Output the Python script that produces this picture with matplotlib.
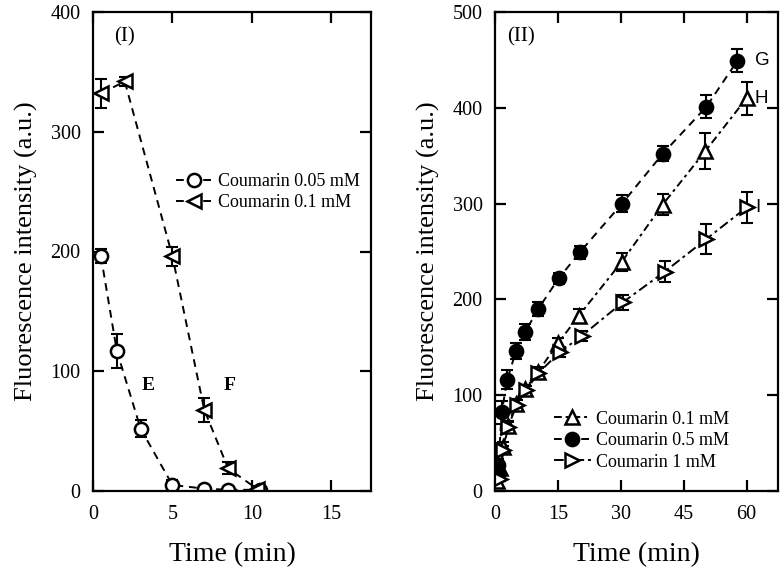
import matplotlib
matplotlib.use("Agg")
import matplotlib.pyplot as plt

plt.rcParams['font.family'] = ['Liberation Serif', 'DejaVu Serif']
plt.rcParams['mathtext.fontset'] = 'stix'

# panel I: coumarin consumption
t_e = [0.5, 1.5, 3.0, 5.0, 7.0, 8.5, 10.5]
y_e = [196, 117, 52, 5, 2, 1, 1]
err_e = [6, 14, 7, 4, 2, 2, 2]

t_f = [0.5, 2.0, 5.0, 7.0, 8.5, 10.3]
y_f = [332, 342, 196, 68, 19, 2]
err_f = [12, 4, 8, 10, 5, 2]

# panel II: product formation
t_g = [0.5, 0.8, 1.6, 2.9, 5.0, 7.2, 10.3, 15.2, 20.2, 30.3, 40.0, 50.4, 57.8]
y_g = [20, 27, 82, 116, 146, 166, 190, 222, 249, 300, 352, 401, 449]
err_g = [5, 6, 12, 10, 8, 8, 7, 6, 7, 9, 8, 12, 12]

t_h = [0.5, 1.2, 2.0, 3.1, 5.0, 7.2, 10.2, 15.0, 20.0, 30.2, 40.0, 50.2, 60.0]
y_h = [10, 24, 46, 68, 91, 106, 124, 154, 183, 239, 299, 355, 410]
err_h = [3, 4, 5, 5, 5, 5, 5, 6, 7, 9, 11, 19, 17]

t_i = [1.2, 2.0, 3.1, 5.2, 7.4, 10.3, 15.5, 20.7, 30.5, 40.5, 50.4, 60.0]
y_i = [13, 43, 67, 90, 105, 123, 145, 162, 197, 229, 263, 296]
err_i = [3, 4, 5, 5, 5, 5, 5, 5, 8, 11, 16, 16]

W, H = 783, 570
fig = plt.figure(figsize=(W / 100, H / 100), dpi=100)
ax1 = fig.add_axes([93 / W, 79 / H, 278 / W, 479 / H])
ax2 = fig.add_axes([495 / W, 79 / H, 283 / W, 479 / H])

mk = dict(markersize=9.5, markeredgewidth=1.8, color='black', lw=1.4)
eb = dict(fmt='none', ecolor='black', elinewidth=1.5, capsize=4, capthick=1.5)


def style_axes(ax):
    for s in ax.spines.values():
        s.set_linewidth(1.6)
    ax.tick_params(direction='in', top=True, right=True, width=1.6, length=8,
                   labelsize=14.5, pad=9)
    ax.tick_params(axis='x', pad=10)
    ax.set_xlabel('Time (min)', fontsize=20, labelpad=13)
    ax.set_ylabel('Fluorescence intensity (a.u.)', fontsize=19, labelpad=9)


# ---- panel I ----
ax1.errorbar(t_e, y_e, yerr=err_e, **eb)
ax1.errorbar(t_f, y_f, yerr=err_f, **eb)
ax1.plot(t_e, y_e, marker='o', mfc='white', dashes=(4, 3),
         label='Coumarin 0.05 mM', **mk)
ax1.plot(t_f, y_f, marker='<', mfc='white', dashes=(4, 3),
         label='Coumarin 0.1 mM', **mk)
ax1.set_xlim(0, 17.5)
ax1.set_ylim(0, 400)
ax1.set_xticks([0, 5, 10, 15])
ax1.set_yticks([0, 100, 200, 300, 400])
style_axes(ax1)
ax1.text(0.115, 0.948, '(I)', transform=ax1.transAxes, fontsize=15, ha='center', va='center')
ax1.text(3.45, 88, 'E', fontsize=14, fontweight='bold', ha='center', va='center')
ax1.text(8.6, 88, 'F', fontsize=14, fontweight='bold', ha='center', va='center')
ax1.legend(loc='center left', bbox_to_anchor=(0.30, 0.624), frameon=False,
           fontsize=13, handlelength=1.9, handletextpad=0.4, labelspacing=0.2,
           borderpad=0, borderaxespad=0)

# ---- panel II ----
ax2.errorbar(t_g, y_g, yerr=err_g, **eb)
ax2.errorbar(t_h, y_h, yerr=err_h, **eb)
ax2.errorbar(t_i, y_i, yerr=err_i, **eb)
ax2.plot(t_h, y_h, marker='^', mfc='white', dashes=(4, 2, 1.5, 2),
         label='Coumarin 0.1 mM', **mk)
ax2.plot(t_g, y_g, marker='o', mfc='black', dashes=(4, 3),
         label='Coumarin 0.5 mM', **mk)
ax2.plot(t_i, y_i, marker='>', mfc='white', dashes=(5, 2, 1.5, 2),
         label='Coumarin 1 mM', **mk)
ax2.set_xlim(0, 67.5)
ax2.set_ylim(0, 500)
ax2.set_xticks([0, 15, 30, 45, 60])
ax2.set_yticks([0, 100, 200, 300, 400, 500])
style_axes(ax2)
ax2.text(0.092, 0.948, '(II)', transform=ax2.transAxes, fontsize=15, ha='center', va='center')
for lab, ty in zip(['G', 'H', 'I'], [449, 410, 296]):
    ax2.text(62.0, ty, lab, fontsize=13.5, family='Liberation Sans', ha='left', va='center')
ax2.legend(loc='center left', bbox_to_anchor=(0.21, 0.105), frameon=False,
           fontsize=13, handlelength=2.0, handletextpad=0.3, labelspacing=0.25,
           borderpad=0, borderaxespad=0)

fig.savefig('out.png', dpi=100)
